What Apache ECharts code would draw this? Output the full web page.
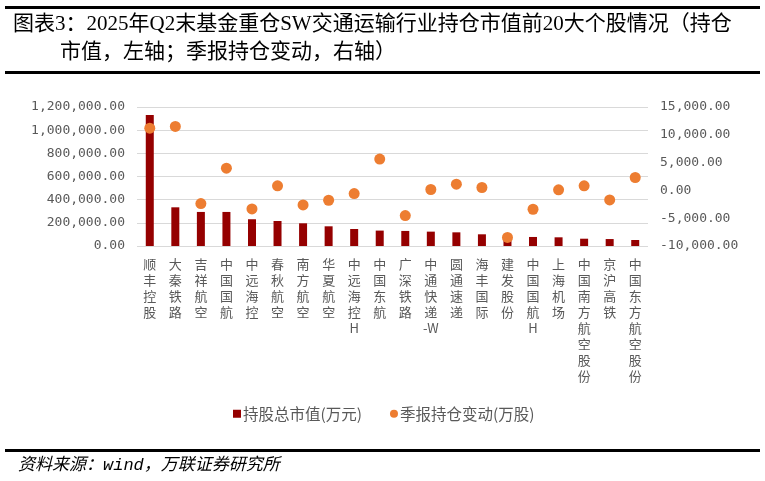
<!DOCTYPE html>
<html>
<head>
<meta charset="utf-8">
<script src="https://cdn.jsdelivr.net/npm/echarts@6/dist/echarts.min.js"></script>
<style>
  html, body { margin: 0; padding: 0; background: #fff; }
  #chart { width: 765px; height: 481px; }
</style>
</head>
<body>
<div id="chart"></div>
<script>
// 个股名称
var stocks = ['顺丰控股', '大秦铁路', '吉祥航空', '中国国航', '中远海控', '春秋航空', '南方航空', '华夏航空', '中远海控H', '中国东航',
  '广深铁路', '中通快递-W', '圆通速递', '海丰国际', '建发股份', '中国国航H', '上海机场', '中国南方航空股份', '京沪高铁', '中国东方航空股份'];
// 持股总市值(万元)
var marketValue = [1130000, 334000, 294000, 294000, 231000, 216000, 196000, 170000, 147000, 133000,
  130000, 124000, 118000, 101000, 90000, 78000, 75000, 63000, 60000, 52000];
// 季报持仓变动(万股)
var holdChange = [11200, 11500, -2370, 4000, -3330, 820, -2610, -1770, -570, 5630,
  -4530, 160, 1120, 520, -8450, -3390, 100, 820, -1710, 2320];
var leftTicks = { min: 0, max: 1200000, interval: 200000 };
var rightTicks = { min: -10000, max: 15000, interval: 5000 };

function fmt(v) {
  var neg = v < 0;
  var s = Math.abs(v).toFixed(2).split('.');
  s[0] = s[0].replace(/\B(?=(\d{3})+(?!\d))/g, ',');
  return (neg ? '-' : '') + s[0] + '.' + s[1];
}
// 竖排文字：汉字逐字换行，连续的英文/符号作为一个整体
function vertical(name) {
  var parts = name.match(/[A-Za-z\-]+|./g);
  return parts.join('\n');
}

var myChart = echarts.init(document.getElementById('chart'));
var grey = '#595959';
var mono = 'DejaVu Sans Mono';
var serif = 'Liberation Serif, Noto Sans CJK SC';

myChart.setOption({
  animation: false,
  textStyle: { fontFamily: 'Noto Sans CJK SC' },
  graphic: [
    { type: 'rect', shape: { x: 5, y: 6, width: 755, height: 3 }, style: { fill: '#000' } },
    { type: 'text', left: 13, top: 14, style: { text: '图表3：2025年Q2末基金重仓SW交通运输行业持仓市值前20大个股情况（持仓', fontSize: 21, fontFamily: serif, fill: '#000' } },
    { type: 'text', left: 60, top: 42, style: { text: '市值，左轴；季报持仓变动，右轴）', fontSize: 21, fontFamily: serif, fill: '#000' } },
    { type: 'rect', shape: { x: 5, y: 71, width: 755, height: 3 }, style: { fill: '#000' } },
    { type: 'rect', shape: { x: 5, y: 449, width: 755, height: 3 }, style: { fill: '#000' } },
    { type: 'text', left: 18, top: 457, style: { text: '资料来源：wind，万联证券研究所', fontSize: 17, fontStyle: 'italic', fontFamily: 'Liberation Mono, Noto Sans CJK SC', fill: '#000' } }
  ],
  legend: {
    data: [
      { name: '持股总市值(万元)', icon: 'rect' },
      { name: '季报持仓变动(万股)', icon: 'circle' }
    ],
    left: 228,
    top: 401,
    itemWidth: 8,
    itemHeight: 8,
    itemGap: 28,
    textStyle: { color: grey, fontSize: 15.5, padding: [0, 0, 0, -3] }
  },
  grid: { left: 137, right: 117, top: 107, bottom: 235 },
  xAxis: {
    type: 'category',
    data: stocks,
    axisLine: { show: false },
    axisTick: { show: false },
    axisLabel: {
      interval: 0,
      formatter: vertical,
      color: grey,
      fontSize: 13,
      lineHeight: 16,
      verticalAlign: 'top',
      margin: 10
    }
  },
  yAxis: [{
    type: 'value',
    min: leftTicks.min,
    max: leftTicks.max,
    interval: leftTicks.interval,
    axisLine: { show: false },
    axisTick: { show: false },
    axisLabel: { formatter: fmt, color: grey, fontSize: 13, fontFamily: mono, margin: 12 },
    splitLine: { show: true, lineStyle: { color: '#d9d9d9', width: 1 } }
  }, {
    type: 'value',
    position: 'right',
    min: rightTicks.min,
    max: rightTicks.max,
    interval: rightTicks.interval,
    axisLine: { show: false },
    axisTick: { show: false },
    axisLabel: { formatter: fmt, color: grey, fontSize: 13, fontFamily: mono, margin: 12 },
    splitLine: { show: false }
  }],
  series: [{
    name: '持股总市值(万元)',
    type: 'bar',
    yAxisIndex: 0,
    barWidth: 8,
    itemStyle: { color: '#950000' },
    data: marketValue
  }, {
    name: '季报持仓变动(万股)',
    type: 'scatter',
    yAxisIndex: 1,
    symbolSize: 11,
    z: 5,
    itemStyle: { color: '#ED7D31', opacity: 1 },
    data: holdChange
  }]
});
window.onresize = myChart.resize;
</script>
</body>
</html>
